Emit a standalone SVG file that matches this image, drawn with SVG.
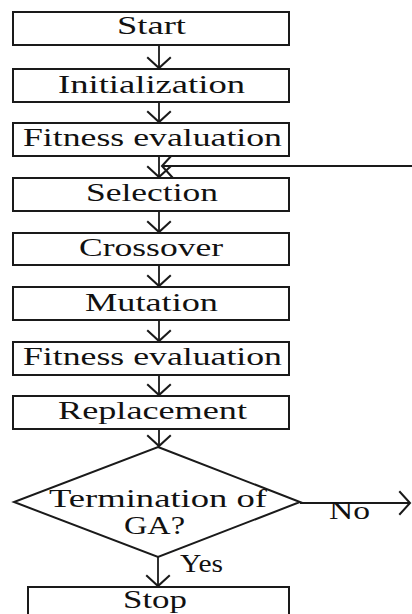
<svg xmlns="http://www.w3.org/2000/svg" width="412" height="614" viewBox="0 0 412 614">
<style>
.box{fill:#fff;stroke:#1a1a1a;stroke-width:2}
.lbl{font-family:"Liberation Serif","Times New Roman",serif;font-size:26px;fill:#111}
.con{stroke:#1a1a1a;stroke-width:1.8;fill:none}
</style>
<defs>
<marker id="ah" markerUnits="userSpaceOnUse" markerWidth="30" markerHeight="30" viewBox="-14 -14 16 28" refX="0" refY="0" orient="auto">
<path d="M-10,-11 L0,0 L-10,11" fill="none" stroke="#1a1a1a" stroke-width="1.9"/>
</marker>
</defs>
<rect width="412" height="614" fill="#fff"/>
<g id="connectors">
<line class="con" x1="159" y1="45" x2="159" y2="68" marker-end="url(#ah)"/>
<line class="con" x1="159" y1="102" x2="159" y2="122" marker-end="url(#ah)"/>
<line class="con" x1="159" y1="156" x2="159" y2="177" marker-end="url(#ah)"/>
<line class="con" x1="412" y1="166" x2="162" y2="166" marker-end="url(#ah)"/>
<line class="con" x1="159" y1="211" x2="159" y2="232" marker-end="url(#ah)"/>
<line class="con" x1="159" y1="265" x2="159" y2="286" marker-end="url(#ah)"/>
<line class="con" x1="159" y1="320" x2="159" y2="341" marker-end="url(#ah)"/>
<line class="con" x1="159" y1="375" x2="159" y2="395" marker-end="url(#ah)"/>
<line class="con" x1="159" y1="429" x2="159" y2="446" marker-end="url(#ah)"/>
<line class="con" x1="158" y1="557" x2="158" y2="586" marker-end="url(#ah)"/>
<line class="con" x1="300" y1="503" x2="410" y2="503" marker-end="url(#ah)"/>
<text class="lbl" x="329" y="519" textLength="41" lengthAdjust="spacingAndGlyphs">No</text>
<text class="lbl" x="180" y="572" textLength="43" lengthAdjust="spacingAndGlyphs">Yes</text>
</g>
<g id="start">
<rect class="box" x="13" y="12" width="276" height="33"/>
<text class="lbl" x="117" y="34" textLength="69" lengthAdjust="spacingAndGlyphs">Start</text>
</g>
<g id="initialization">
<rect class="box" x="13" y="69" width="276" height="33"/>
<text class="lbl" x="58" y="93" textLength="187" lengthAdjust="spacingAndGlyphs">Initialization</text>
</g>
<g id="fitness1">
<rect class="box" x="13" y="123" width="276" height="33"/>
<text class="lbl" x="23" y="146" textLength="259" lengthAdjust="spacingAndGlyphs">Fitness evaluation</text>
</g>
<g id="selection">
<rect class="box" x="13" y="178" width="276" height="33"/>
<text class="lbl" x="86" y="201" textLength="132" lengthAdjust="spacingAndGlyphs">Selection</text>
</g>
<g id="crossover">
<rect class="box" x="13" y="233" width="276" height="32"/>
<text class="lbl" x="79" y="256" textLength="144" lengthAdjust="spacingAndGlyphs">Crossover</text>
</g>
<g id="mutation">
<rect class="box" x="13" y="287" width="276" height="33"/>
<text class="lbl" x="85" y="311" textLength="133" lengthAdjust="spacingAndGlyphs">Mutation</text>
</g>
<g id="fitness2">
<rect class="box" x="13" y="342" width="276" height="33"/>
<text class="lbl" x="23" y="365" textLength="259" lengthAdjust="spacingAndGlyphs">Fitness evaluation</text>
</g>
<g id="replacement">
<rect class="box" x="13" y="396" width="276" height="33"/>
<text class="lbl" x="58" y="419" textLength="189" lengthAdjust="spacingAndGlyphs">Replacement</text>
</g>
<g id="termination">
<polygon class="box" points="158,447 300,502 158,557 14,502"/>
<text class="lbl" x="49" y="507" textLength="218" lengthAdjust="spacingAndGlyphs">Termination of</text>
<text class="lbl" x="124" y="534" textLength="61" lengthAdjust="spacingAndGlyphs">GA?</text>
</g>
<g id="stop">
<rect class="box" x="28" y="587" width="261" height="40"/>
<text class="lbl" x="123" y="608" textLength="64" lengthAdjust="spacingAndGlyphs">Stop</text>
</g>
</svg>
